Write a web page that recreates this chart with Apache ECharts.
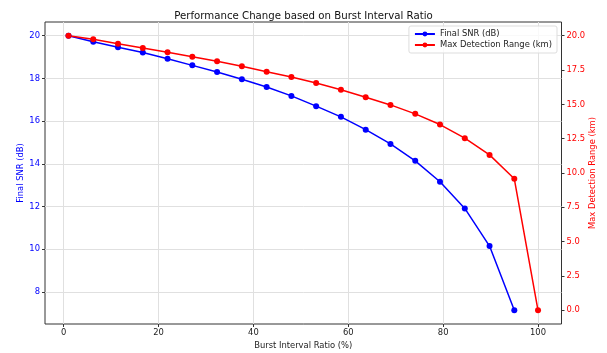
<!DOCTYPE html>
<html>
<head>
<meta charset="utf-8">
<script src="https://cdn.jsdelivr.net/npm/echarts@6/dist/echarts.min.js"></script>
<style>html,body{margin:0;padding:0;background:#fff;}#c{width:607px;height:353px;}</style>
</head>
<body>
<div id="c"></div>
<script>
const burstRatio = [1, 6.22, 11.44, 16.67, 21.89, 27.11, 32.33, 37.56, 42.78, 48, 53.22, 58.44, 63.67, 68.89, 74.11, 79.33, 84.56, 89.78, 95, 100];
const finalSNR = [20.0, 19.72, 19.46, 19.21, 18.92, 18.61, 18.30, 17.96, 17.60, 17.18, 16.70, 16.20, 15.60, 14.93, 14.14, 13.16, 11.91, 10.15, 7.14];
const maxRange = [20.0, 19.74, 19.42, 19.10, 18.79, 18.47, 18.14, 17.77, 17.38, 17.0, 16.56, 16.07, 15.52, 14.96, 14.31, 13.53, 12.54, 11.32, 9.58, 0.0];
const xTicks = [0, 20, 40, 60, 80, 100];
const snrTicks = [8, 10, 12, 14, 16, 18, 20];
const rangeTicks = [0, 2.5, 5, 7.5, 10, 12.5, 15, 17.5, 20];

const font = 'DejaVu Sans';
const fs = 8.4;
const chart = echarts.init(document.getElementById('c'), null, {renderer: 'canvas'});
const snrData = finalSNR.map((v, i) => [burstRatio[i], v]);
const rangeData = maxRange.map((v, i) => [burstRatio[i], v]);

chart.setOption({
  animation: false,
  backgroundColor: '#fff',
  textStyle: {fontFamily: font},
  title: {
    text: 'Performance Change based on Burst Interval Ratio',
    left: 'center', top: 6,
    textStyle: {fontFamily: font, fontSize: 10.2, fontWeight: 'normal', color: '#111'}
  },
  legend: {
    orient: 'vertical', right: 50, top: 26,
    itemWidth: 20, itemHeight: 6, itemGap: 3,
    padding: [4, 5, 4, 5],
    borderColor: '#ddd', borderWidth: 1, borderRadius: 2,
    backgroundColor: 'rgba(255,255,255,0.8)',
    textStyle: {fontFamily: font, fontSize: fs, color: '#222'},
    data: ['Final SNR (dB)', 'Max Detection Range (km)']
  },
  grid: {
    left: 45, right: 45.5, top: 22, bottom: 29,
    outerBoundsMode: 'none', containLabel: false,
    show: true, borderColor: '#333', borderWidth: 1, backgroundColor: 'transparent'
  },
  xAxis: {
    type: 'value', min: -3.95, max: 104.95,
    name: 'Burst Interval Ratio (%)', nameLocation: 'middle', nameGap: 17,
    nameTextStyle: {fontFamily: font, fontSize: fs, color: '#222'},
    axisLine: {show: false, onZero: false},
    axisTick: {show: true, length: 3, inside: false, customValues: xTicks, lineStyle: {color: '#333'}},
    axisLabel: {customValues: xTicks, fontSize: fs, color: '#222', margin: 5, fontFamily: font},
    splitLine: {show: true, lineStyle: {color: '#e0e0e0', width: 1}}
  },
  yAxis: [
    {
      type: 'value', min: 6.5, max: 20.64, position: 'left',
      name: 'Final SNR (dB)', nameLocation: 'middle', nameGap: 20, nameMoveOverlap: false,
      nameTextStyle: {fontFamily: font, fontSize: fs, color: '#0000ff'},
      axisLine: {show: false, onZero: false},
      axisTick: {show: true, length: 3, customValues: snrTicks, lineStyle: {color: '#333'}},
      axisLabel: {customValues: snrTicks, fontSize: fs, color: '#0000ff', margin: 5, fontFamily: font},
      splitLine: {show: true, lineStyle: {color: '#e0e0e0', width: 1}}
    },
    {
      type: 'value', min: -1, max: 21, position: 'right',
      name: 'Max Detection Range (km)', nameLocation: 'middle', nameGap: 27, nameMoveOverlap: false,
      nameTextStyle: {fontFamily: font, fontSize: fs, color: '#ff0000'},
      axisLine: {show: false, onZero: false},
      axisTick: {show: true, length: 3, customValues: rangeTicks, lineStyle: {color: '#333'}},
      axisLabel: {customValues: rangeTicks, fontSize: fs, color: '#ff0000', margin: 5, fontFamily: font,
        formatter: v => v.toFixed(1)},
      splitLine: {show: false}
    }
  ],
  series: [
    {
      name: 'Final SNR (dB)', type: 'line', yAxisIndex: 0, data: snrData,
      symbol: 'circle', symbolSize: 6,
      lineStyle: {color: '#0000ff', width: 1.5},
      itemStyle: {color: '#0000ff'}
    },
    {
      name: 'Max Detection Range (km)', type: 'line', yAxisIndex: 1, data: rangeData,
      symbol: 'circle', symbolSize: 6,
      lineStyle: {color: '#ff0000', width: 1.5},
      itemStyle: {color: '#ff0000'}
    }
  ]
});
</script>
</body>
</html>
